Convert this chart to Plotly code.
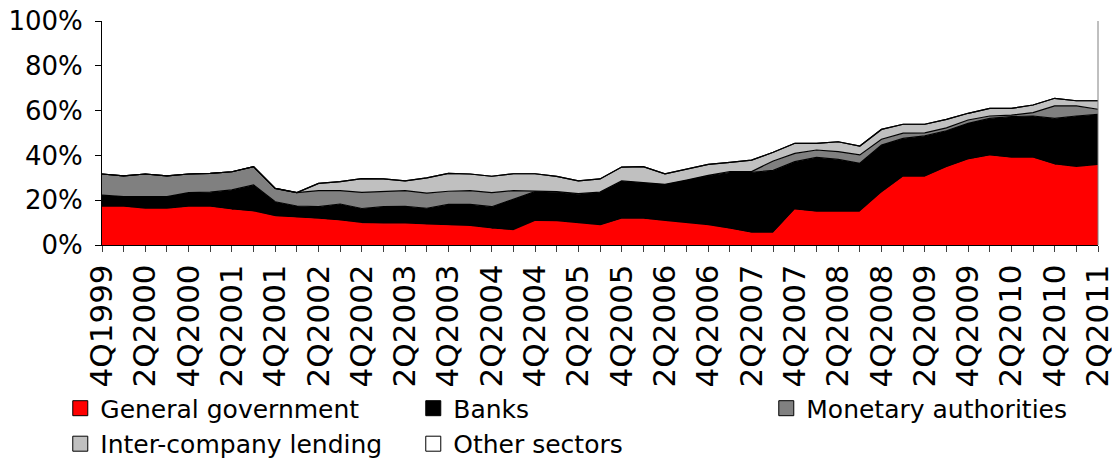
import plotly.graph_objects as go

quarters = ["4Q1999", "1Q2000", "2Q2000", "3Q2000", "4Q2000", "1Q2001", "2Q2001", "3Q2001",
            "4Q2001", "1Q2002", "2Q2002", "3Q2002", "4Q2002", "1Q2003", "2Q2003", "3Q2003",
            "4Q2003", "1Q2004", "2Q2004", "3Q2004", "4Q2004", "1Q2005", "2Q2005", "3Q2005",
            "4Q2005", "1Q2006", "2Q2006", "3Q2006", "4Q2006", "1Q2007", "2Q2007", "3Q2007",
            "4Q2007", "1Q2008", "2Q2008", "3Q2008", "4Q2008", "1Q2009", "2Q2009", "3Q2009",
            "4Q2009", "1Q2010", "2Q2010", "3Q2010", "4Q2010", "1Q2011", "2Q2011"]

general_government = [16.8, 16.8, 15.9, 15.9, 16.8, 16.8, 15.6, 14.7, 12.6, 12.2, 11.5, 10.7,
                      9.5, 9.3, 9.3, 8.9, 8.4, 8.2, 7.1, 6.3, 10.4, 10.3, 9.4, 8.5,
                      11.5, 11.5, 10.4, 9.4, 8.5, 7.0, 5.2, 5.2, 15.6, 14.6, 14.6, 14.6,
                      23.1, 30.2, 30.2, 34.5, 37.9, 39.7, 38.7, 38.7, 35.7, 34.5, 35.4]
banks = [5.5, 4.8, 5.7, 5.7, 6.6, 6.8, 9.0, 12.1, 6.7, 5.2, 5.6, 7.6,
         6.8, 7.8, 7.9, 7.5, 9.7, 9.9, 10.0, 14.3, 13.4, 13.3, 13.3, 14.9,
         17.1, 16.3, 16.7, 19.6, 22.4, 25.3, 27.2, 28.1, 21.6, 24.5, 23.6, 21.9,
         21.5, 17.4, 18.5, 16.5, 16.4, 16.8, 18.6, 18.9, 20.8, 23.1, 22.9]
monetary_authorities = [9.4, 9.3, 10.1, 9.3, 8.3, 8.4, 8.1, 8.2, 6.0, 6.0, 7.2, 6.0,
                        7.2, 6.7, 7.1, 6.8, 5.9, 6.2, 6.3, 3.7, 0.4, 0.2, 0.2, 0.2,
                        0.0, 0.0, 0.0, 0.0, 0.2, 0.5, 0.4, 4.2, 3.7, 3.3, 3.5, 3.7,
                        2.6, 2.3, 1.4, 1.3, 1.5, 1.1, 0.7, 1.5, 5.6, 4.5, 2.3]
inter_company_lending = [0.0, 0.0, 0.0, 0.0, 0.0, 0.0, 0.0, 0.0, 0.0, 0.0, 3.2, 4.0,
                         6.1, 5.7, 4.3, 6.8, 8.0, 7.4, 7.3, 7.5, 7.6, 6.8, 5.7, 5.9,
                         6.2, 7.2, 4.7, 4.8, 4.9, 4.1, 5.1, 3.9, 4.5, 3.0, 4.4, 4.0,
                         4.4, 4.0, 3.8, 3.8, 3.0, 3.4, 3.0, 3.4, 3.4, 2.3, 3.8]
other_sectors = [0.0, 0.0, 0.0, 0.0, 0.0, 0.0, 0.0, 0.0, 0.0, 0.0, 0.0, 0.0,
                 0.0, 0.0, 0.0, 0.0, 0.0, 0.0, 0.0, 0.0, 0.0, 0.0, 0.0, 0.0,
                 0.0, 0.0, 0.0, 0.0, 0.0, 0.0, 0.0, 0.0, 0.0, 0.0, 0.0, 0.0,
                 0.0, 0.0, 0.0, 0.0, 0.0, 0.0, 0.0, 0.0, 0.0, 0.0, 0.0]

series = [
    ("General government", general_government, "#ff0000"),
    ("Banks", banks, "#000000"),
    ("Monetary authorities", monetary_authorities, "#808080"),
    ("Inter-company lending", inter_company_lending, "#c0c0c0"),
    ("Other sectors", other_sectors, "#ffffff"),
]

FONT = "DejaVu Sans"
x = list(range(len(quarters)))

fig = go.Figure()
for name, vals, col in series:
    fig.add_trace(go.Scatter(
        x=x, y=vals, name=name, mode="lines", stackgroup="one",
        line=dict(color="#000000" if col != "#ff0000" else "#ff0000", width=1.2),
        fillcolor=col, showlegend=False, hoverinfo="skip"))
# legend proxies
for name, vals, col in series:
    fig.add_trace(go.Scatter(
        x=[None], y=[None], name=name, mode="markers",
        marker=dict(symbol="square", size=15, color=col, line=dict(color="#000000", width=1)),
        showlegend=True))

ticktext = [q if i % 2 == 0 else "" for i, q in enumerate(quarters)]

fig.update_layout(
    width=1112, height=459,
    margin=dict(l=101.7, r=14.4, t=21, b=214, autoexpand=False),
    paper_bgcolor="white", plot_bgcolor="white",
    font=dict(family=FONT, size=24, color="#000000"),
    showlegend=True,
    legend=dict(orientation="h", x=-0.0419, y=-0.627, xanchor="left", yanchor="top",
                entrywidth=308, entrywidthmode="pixels", itemsizing="trace",
                traceorder="normal",
                font=dict(family=FONT, size=25, color="#000000"),
                tracegroupgap=0, bgcolor="rgba(0,0,0,0)"),
    xaxis=dict(range=[0, 46], tickmode="array", tickvals=x, ticktext=ticktext,
               tickangle=-90, ticks="outside", ticklen=6, tickcolor="#404040",
               showline=True, linecolor="#000000", linewidth=1, showgrid=False,
               zeroline=False, automargin=False, ticklabeloverflow="allow",
               tickfont=dict(family=FONT, size=31, color="#000000")),
    yaxis=dict(range=[0, 100], tickvals=[0, 20, 40, 60, 80, 100],
               ticktext=["0%", "20%", "40%", "60%", "80%", "100%"],
               ticks="outside", ticklen=6, tickcolor="#000000", ticklabelstandoff=7,
               showline=True, linecolor="#000000", linewidth=1, showgrid=False,
               zeroline=False, automargin=False, ticklabeloverflow="allow",
               tickfont=dict(family=FONT, size=26, color="#000000")),
    shapes=[dict(type="line", xref="paper", yref="paper", x0=1, x1=1, y0=0, y1=1,
                 line=dict(color="#808080", width=1))],
)

fig.write_html("out.html", config={"displayModeBar": False},
               post_script="document.body.style.margin='0';document.body.style.overflow='hidden';")
